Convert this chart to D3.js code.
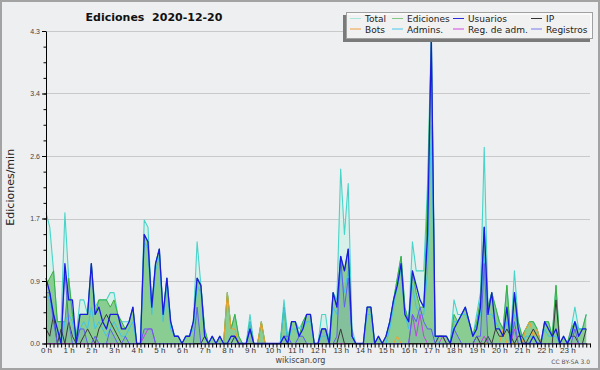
<!DOCTYPE html>
<html>
<head>
<meta charset="utf-8">
<script src="https://cdn.jsdelivr.net/npm/d3@7"></script>
<style>
  body { margin: 0; background: #eeeff1; }
  svg { display: block; font-family: "DejaVu Sans", sans-serif; }
</style>
</head>
<body>
<div id="chart"></div>
<script>
// tick labels
const hourLabels = ["0 h","1 h","2 h","3 h","4 h","5 h","6 h","7 h","8 h","9 h","10 h","11 h",
  "12 h","13 h","14 h","15 h","16 h","17 h","18 h","19 h","20 h","21 h","22 h","23 h"];
const yTicks = [0, 0.86, 1.72, 2.58, 3.44, 4.3];

// edits per minute, one value every 10 minutes (one row = one hour)
const total = [
  1.8,1.6,1.0,0.3,0.3,1.8, 0.9,0.4,0.1,0.6,0.6,0.4, 1.1,0.5,0.6,0.6,0.6,0.7, 0.7,0.4,0.3,0.3,0.3,0.5,
  0.0,0.0,1.7,1.6,0.5,1.1, 1.3,0.4,0.9,0.3,0.1,0.1, 0.0,0.1,0.1,0.3,1.4,0.8, 0.2,0.0,0.1,0.0,0.1,0.0,
  0.7,0.2,0.4,0.1,0.0,0.0, 0.4,0.0,0.0,0.3,0.0,0.0, 0.0,0.0,0.0,0.6,0.1,0.3, 0.3,0.2,0.3,0.4,0.4,0.0,
  0.0,0.4,0.4,0.0,0.7,0.6, 2.4,1.5,2.2,0.2,0.0,0.0, 0.0,0.5,0.5,0.0,0.1,0.0, 0.1,0.3,0.6,0.9,1.2,0.5,
  0.3,1.4,1.0,1.0,1.0,2.2, 4.3,0.1,0.1,0.1,0.1,0.0, 0.6,0.4,0.4,0.5,0.3,0.1, 0.4,0.7,2.7,0.5,0.7,0.5,
  0.3,0.2,0.8,0.1,1.0,0.3, 0.1,0.2,0.3,0.3,0.2,0.0, 0.3,0.3,0.1,0.8,0.0,0.1, 0.0,0.2,0.5,0.2,0.2,0.4
];
const ediciones = [
  0.8,0.9,1.0,0.3,0.3,0.3, 0.9,0.4,0.1,0.4,0.4,0.4, 1.1,0.4,0.6,0.6,0.6,0.5, 0.6,0.4,0.3,0.2,0.3,0.5,
  0.0,0.0,1.5,1.4,0.5,1.1, 1.3,0.4,0.9,0.3,0.1,0.1, 0.0,0.1,0.1,0.3,0.9,0.8, 0.2,0.0,0.1,0.0,0.1,0.0,
  0.7,0.2,0.4,0.1,0.0,0.0, 0.3,0.0,0.0,0.3,0.0,0.0, 0.0,0.0,0.0,0.5,0.0,0.3, 0.3,0.1,0.3,0.4,0.4,0.0,
  0.0,0.2,0.2,0.0,0.7,0.5, 1.2,1.0,1.3,0.1,0.0,0.0, 0.0,0.5,0.5,0.0,0.1,0.0, 0.1,0.3,0.6,0.9,1.2,0.5,
  0.3,1.0,0.7,0.5,0.5,2.0, 4.2,0.1,0.1,0.1,0.1,0.0, 0.4,0.3,0.4,0.5,0.3,0.1, 0.3,0.6,1.6,0.5,0.7,0.5,
  0.3,0.2,0.8,0.1,0.7,0.3, 0.1,0.2,0.3,0.3,0.2,0.0, 0.3,0.3,0.1,0.8,0.0,0.1, 0.0,0.2,0.3,0.2,0.2,0.4
];
const usuarios = [
  0.9,0.7,0.4,0.2,0.0,1.1, 0.6,0.6,0.0,0.4,0.4,0.4, 1.1,0.4,0.5,0.3,0.2,0.4, 0.4,0.4,0.2,0.2,0.3,0.5,
  0.0,0.0,1.5,1.4,0.5,1.1, 1.3,0.4,0.9,0.3,0.1,0.1, 0.0,0.1,0.1,0.3,0.9,0.8, 0.1,0.0,0.1,0.0,0.1,0.0,
  0.0,0.1,0.1,0.0,0.0,0.0, 0.2,0.0,0.0,0.0,0.0,0.0, 0.0,0.0,0.0,0.1,0.0,0.3, 0.3,0.1,0.2,0.4,0.4,0.0,
  0.0,0.2,0.2,0.0,0.7,0.5, 1.2,1.0,1.3,0.1,0.0,0.0, 0.0,0.5,0.5,0.0,0.1,0.0, 0.1,0.3,0.6,0.8,1.1,0.4,
  0.3,1.0,0.8,0.6,0.5,1.5, 4.2,0.1,0.1,0.1,0.1,0.0, 0.2,0.3,0.4,0.5,0.3,0.1, 0.2,0.5,1.6,0.4,0.7,0.2,
  0.2,0.1,0.5,0.0,0.7,0.2, 0.0,0.0,0.0,0.1,0.0,0.0, 0.3,0.2,0.1,0.2,0.0,0.1, 0.0,0.1,0.3,0.1,0.2,0.2
];
const ip = [
  0.2,0.1,0.4,0.0,0.2,0.0, 0.3,0.1,0.0,0.0,0.1,0.2, 0.1,0.0,0.2,0.3,0.4,0.3, 0.2,0.1,0.0,0.0,0.0,0.0,
  0,0,0,0,0,0, 0,0,0,0,0,0, 0,0,0,0,0,0, 0.1,0,0,0,0,0,
  0,0,0.1,0,0,0, 0,0,0,0,0,0, 0,0,0,0,0,0, 0,0,0,0,0,0,
  0,0,0,0,0,0, 0.2,0,0,0,0,0, 0,0,0,0,0,0, 0,0,0,0,0,0,
  0,0,0,0,0,0, 0,0,0.1,0.1,0,0, 0,0,0,0,0,0, 0.1,0,0,0.1,0,0.2,
  0.1,0.1,0.2,0.1,0,0.1, 0.1,0,0.1,0.2,0.1,0, 0,0,0,0.6,0,0, 0,0.1,0.1,0,0,0.2
];
const bots = [
  0,0,0,0,0,0, 0,0,0,0,0,0, 0,0,0,0,0,0, 0,0,0,0,0,0,
  0,0,0,0,0,0, 0,0,0,0,0,0, 0,0,0,0,0,0, 0,0,0,0,0,0,
  0.7,0.2,0.2,0,0,0, 0,0,0,0.3,0,0, 0,0,0,0,0,0, 0,0,0,0,0,0,
  0,0,0,0,0,0, 0,0,0,0,0,0, 0,0,0,0,0,0, 0,0,0,0.1,0,0,
  0,0,0,0,0,0, 0,0,0,0,0,0, 0,0,0,0,0,0, 0,0,0,0,0,0,
  0,0.2,0,0,0,0, 0,0.2,0.3,0.1,0.2,0, 0,0,0,0,0,0, 0,0,0,0,0,0
];
const admins = [
  0.7,0.6,0.3,0.1,0.0,0.3, 0.4,0.3,0.0,0.2,0.3,0.2, 0.5,0.2,0.3,0.2,0.1,0.2, 0.3,0.2,0.1,0.1,0.2,0.3,
  0.0,0.0,1.4,1.3,0.4,1.0, 1.2,0.3,0.8,0.2,0.1,0.1, 0.0,0.1,0.1,0.2,0.8,0.7, 0.1,0,0.1,0,0,0,
  0,0,0.1,0,0,0, 0.3,0,0,0,0,0, 0,0,0,0.5,0,0.2, 0.2,0.1,0.2,0.3,0.3,0,
  0,0.1,0.1,0,0.5,0.4, 1.0,0.7,1.0,0.1,0,0, 0,0.4,0.4,0,0,0, 0,0.2,0.5,0.8,1.0,0.4,
  0.2,0.8,0.5,0.4,0.4,1.0, 3.0,0.1,0,0,0,0, 0.3,0.3,0.4,0.4,0.3,0.1, 0.2,0.4,1.2,0.4,0.4,0.3,
  0.2,0.1,0.3,0.1,0.4,0.2, 0,0.1,0.1,0.1,0,0, 0.2,0.1,0.1,0.1,0,0, 0,0.1,0.3,0.2,0.2,0.2
];
const regAdm = [
  0,0,0,0,0,0, 0,0,0,0,0,0, 0,0,0,0,0,0, 0,0,0,0,0,0,
  0,0,0.1,0.2,0.2,0, 0,0,0,0,0,0, 0,0,0,0,0,0, 0,0,0,0,0,0,
  0,0,0,0,0,0, 0,0,0,0,0,0, 0,0,0,0,0,0, 0,0,0,0,0,0,
  0,0,0,0,0,0, 0,0,0,0,0,0, 0,0,0,0,0,0, 0,0,0,0,0,0,
  0,0.4,0.1,0.4,0.1,0, 0,0,0,0.1,0,0, 0,0,0,0,0,0, 0,0,0.1,0,0,0,
  0,0,0,0,0.2,0, 0,0,0,0,0,0, 0,0,0,0,0,0, 0,0,0,0,0,0
];
const registros = [
  0.7,0.7,0.3,0.0,0.0,1.0, 0.3,0,0,0.2,0.2,0, 0,0.1,0,0,0,0.2, 0.1,0,0,0.1,0,0,
  0,0,0.2,0.2,0.2,0, 0,0,0,0,0,0, 0,0,0,0,0.5,0, 0,0,0,0,0,0,
  0,0,0,0,0,0, 0.2,0,0,0,0,0, 0,0,0,0.1,0.1,0, 0,0.1,0.1,0,0,0,
  0,0.2,0.2,0,0,0.1, 1.2,0.5,0.9,0.1,0,0, 0,0,0,0,0,0, 0,0,0,0,0,0,
  0,0.4,0.3,0.5,0.3,0.2, 0.2,0,0,0,0,0, 0.2,0.1,0,0,0,0, 0.1,0.1,1.1,0,0,0,
  0,0,0,0,0.3,0, 0,0,0,0,0,0, 0,0,0,0,0,0, 0,0,0.2,0,0,0
];

const legendLabels = ["Total", "Ediciones", "Usuarios", "IP", "Bots", "Admins.", "Reg. de adm.", "Registros"];
const legendColors = ["#a8e6e0", "#80c880", "#2a2ad8", "#333333", "#f0a040", "#48c8e8", "#d048e0", "#7878ee"];

const W = 600, H = 370;
const plotLeft = 46, plotRight = 590, plotTop = 31, plotBottom = 343.5;

const svg = d3.select("#chart").append("svg")
  .attr("width", W)
  .attr("height", H);

svg.append("rect")
  .attr("x", 1).attr("y", 1)
  .attr("width", W - 2).attr("height", H - 2)
  .attr("fill", "#eeeff1")
  .attr("stroke", "#a3a3a3")
  .attr("stroke-width", 2);

const x = d3.scaleLinear().domain([0, 144]).range([plotLeft, plotRight]);
const y = d3.scaleLinear().domain([0, 4.3]).range([plotBottom, plotTop]);

// horizontal grid
svg.append("g").selectAll("line")
  .data(yTicks.slice(1))
  .join("line")
  .attr("x1", plotLeft).attr("x2", plotRight)
  .attr("y1", d => Math.round(y(d)) + 0.5)
  .attr("y2", d => Math.round(y(d)) + 0.5)
  .attr("stroke", "#c9c9c9");

const area = d3.area().x((d, i) => x(i)).y0(y(0)).y1(d => y(d));
const line = d3.line().x((d, i) => x(i)).y(d => y(d));

// filled areas
svg.append("path").datum(total).attr("d", area).attr("fill", "#d8f0ea");
svg.append("path").datum(ediciones).attr("d", area).attr("fill", "rgb(60,170,60)").attr("fill-opacity", 0.5);
svg.append("path").datum(registros).attr("d", area).attr("fill", "#5050e0").attr("fill-opacity", 0.1);

// lines
const series = [
  { vals: total, color: "#48d4c8", w: 1.1 },
  { vals: ediciones, color: "#3cb03c", w: 1 },
  { vals: admins, color: "#40c4e8", w: 1 },
  { vals: bots, color: "#f0a030", w: 1 },
  { vals: regAdm, color: "#c840e0", w: 1 },
  { vals: ip, color: "#3a3a3a", w: 1 },
  { vals: registros, color: "#6060f0", w: 1 },
  { vals: usuarios, color: "#1a1ae0", w: 1.3 }
];
series.forEach(s => {
  svg.append("path").datum(s.vals)
    .attr("d", line)
    .attr("fill", "none")
    .attr("stroke", s.color)
    .attr("stroke-width", s.w)
    .attr("stroke-linejoin", "round");
});

// y axis
const yAxis = svg.append("g")
  .attr("transform", `translate(${plotLeft},0)`)
  .call(d3.axisLeft(y).tickValues(yTicks).tickSize(4).tickPadding(2)
    .tickFormat(d3.format(".1f")).tickSizeOuter(0));
yAxis.selectAll("text").attr("fill", "#444").style("font-size", "7px");
svg.append("g")
  .attr("transform", `translate(${plotLeft},0)`)
  .call(d3.axisLeft(y).tickValues(d3.range(0, 4.31, 0.215)).tickSize(2.5).tickFormat("").tickSizeOuter(0))
  .select(".domain").remove();

// x axis
svg.append("g")
  .attr("transform", `translate(0,${plotBottom})`)
  .call(d3.axisBottom(x).tickValues(d3.range(0, 145)).tickSize(4).tickFormat("").tickSizeOuter(0));
const xLab = svg.append("g")
  .attr("transform", `translate(0,${plotBottom})`)
  .call(d3.axisBottom(x).tickValues(d3.range(0, 144, 6)).tickSize(0).tickPadding(4)
    .tickFormat(d => hourLabels[d / 6]));
xLab.select(".domain").remove();
xLab.selectAll("text").attr("fill", "#333").style("font-size", "8px");
svg.selectAll(".domain").attr("stroke", "#000");
svg.selectAll(".tick line").attr("stroke", "#000");

// titles
svg.append("text")
  .attr("x", 154).attr("y", 21)
  .attr("text-anchor", "middle")
  .attr("font-weight", "bold")
  .attr("font-size", 11)
  .attr("fill", "#111")
  .style("white-space", "pre")
  .text("Ediciones  2020-12-20");

svg.append("text")
  .attr("transform", `translate(13.5,${(plotTop + plotBottom) / 2}) rotate(-90)`)
  .attr("text-anchor", "middle")
  .attr("font-size", 11)
  .attr("fill", "#222")
  .text("Ediciones/min");

svg.append("text")
  .attr("x", 300.5).attr("y", 362.5)
  .attr("text-anchor", "middle")
  .attr("font-size", 8)
  .attr("fill", "#444")
  .text("wikiscan.org");

svg.append("text")
  .attr("x", 590).attr("y", 364)
  .attr("text-anchor", "end")
  .attr("font-size", 6)
  .attr("fill", "#555")
  .text("CC BY-SA 3.0");

// legend
const lg = svg.append("g");
lg.append("rect")
  .attr("x", 343).attr("y", 15).attr("width", 247).attr("height", 27)
  .attr("fill", "#7a7a7a");
lg.append("rect")
  .attr("x", 346.5).attr("y", 12.5).attr("width", 246).attr("height", 26)
  .attr("fill", "#fafafa").attr("fill-opacity", 0.93)
  .attr("stroke", "#a0a0a0");

const colX = [350, 392, 453, 531];
const rowY = [18.5, 29];
legendLabels.forEach((label, k) => {
  const cx = colX[k % 4], cy = rowY[Math.floor(k / 4)];
  lg.append("line")
    .attr("x1", cx).attr("x2", cx + 11)
    .attr("y1", cy).attr("y2", cy)
    .attr("stroke", legendColors[k]);
  lg.append("text")
    .attr("x", cx + 15).attr("y", cy + 3.5)
    .attr("font-size", 9)
    .attr("fill", "#222")
    .text(label);
});
</script>
</body>
</html>
